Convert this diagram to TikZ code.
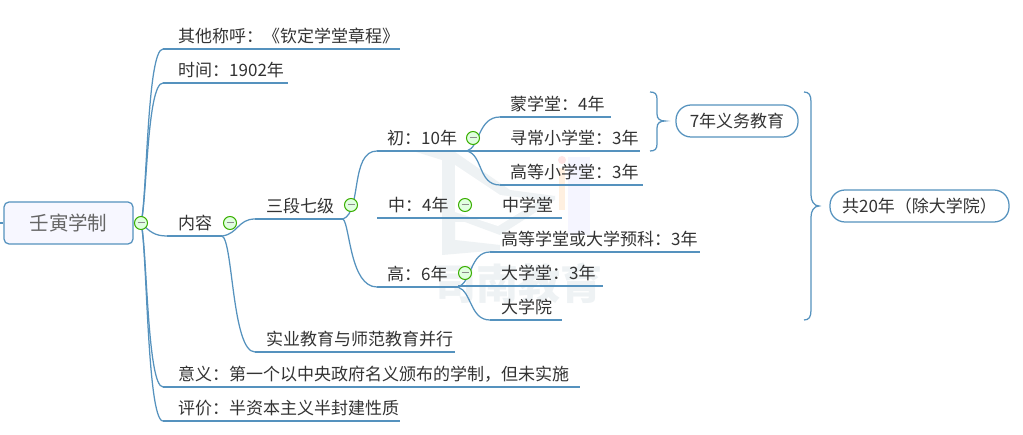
\documentclass[tikz,border=0pt]{standalone}
\usepackage{fontspec}
\setmainfont{Noto Sans CJK SC}
\usetikzlibrary{calc}
\definecolor{lnk}{HTML}{5592BE}
\definecolor{txt}{HTML}{333333}
\definecolor{wm}{HTML}{EEF2F4}
\newcommand{\topic}[6]{% name,x1,x2,yline,textx,text
  \coordinate (#1L) at (#2,#4);
  \coordinate (#1R) at (#3,#4);
  \draw[lnk line] (#1L) -- (#1R);
  \node[lbl] (#1) at (#5,#4-13) {#6};
}
\newcommand{\knob}[2]{\node[knobst] (#1) at #2 {};
  \draw[knobbar] ($(#1)+(-3.5,0)$) -- ($(#1)+(3.5,0)$);}
\tikzset{
  lnk line/.style={draw=lnk,line width=1.25pt},
  lbl/.style={anchor=west,inner sep=0pt,text=txt,font=\fontsize{17pt}{18pt}\selectfont},
  knobst/.style={circle,draw=green!55!black!70!lime,fill=green!12!white,line width=1pt,minimum size=13pt,inner sep=0pt},
  knobbar/.style={draw=black!45,line width=1pt},
  summ/.style={rounded corners=15pt,draw=lnk,line width=1.25pt,fill=white,inner sep=0pt,text=txt,font=\fontsize{17pt}{18pt}\selectfont},
  wmtext/.style={text=wm,font=\bfseries\fontsize{42pt}{44pt}\selectfont,inner sep=0pt},
}
\begin{document}
\begin{tikzpicture}[x=1pt,y=-1pt]
\useasboundingbox (0,0) rectangle (1023,435);
\fill[white] (0,0) rectangle (1023,435);
% watermark
\fill[wm] (413,151) -- (455,152) -- (510,190) -- (555,196) -- (555,200) -- (500,235) -- (465,222) -- (455,222) -- (455,240) -- (500,245) -- (500,250) -- (442,255) -- (442,160) -- cycle;
\fill[white] (455,165) -- (500,195) -- (540,200) -- (498,226) -- (455,212) -- cycle;
\fill[orange!12!white] (559,168) rectangle (565,210);
\fill[red!10!white] (562,160) circle (4);
\fill[blue!4!white] (568,157) rectangle (590,235);
\node[wmtext] (wm) at (518,283) {司南教育};
% root
\node[draw=lnk,line width=1.25pt,fill=blue!3!white,rounded corners=5pt,minimum width=129pt,minimum height=42pt,inner sep=0pt,text=black!60,font=\fontsize{19.5pt}{20pt}\selectfont] (root) at (68.5,223) {壬寅学制};
\coordinate (stub) at (0,223);
\draw[lnk line] (stub) -- (root.west);
\coordinate (hub) at (141,223);
\topic{a}{163}{400}{49}{178}{其他称呼：《钦定学堂章程》}
\topic{b}{163}{288}{83}{178}{时间：1902年}
\topic{c}{167}{222}{236}{178}{内容}
\topic{d}{255}{343}{219}{266}{三段七级}
\topic{e}{255}{455}{352}{266}{实业教育与师范教育并行}
\topic{f}{163}{580}{387}{178}{意义：第一个以中央政府名义颁布的学制，但未实施}
\topic{g}{163}{400}{421}{178}{评价：半资本主义半封建性质}
\topic{h}{377}{467}{151}{387}{初：10年}
\topic{i}{377}{490}{218}{388}{中：4年}
\topic{j}{377}{458}{287}{387}{高：6年}
\topic{k}{500}{611}{117}{510}{蒙学堂：4年}
\topic{l}{467}{640}{151}{510}{寻常小学堂：3年}
\topic{m}{500}{643}{185}{510}{高等小学堂：3年}
\topic{n}{490}{562}{218}{502}{中学堂}
\topic{o}{490}{700}{252}{501}{高等学堂或大学预科：3年}
\topic{p}{458}{603}{286}{501}{大学堂：3年}
\topic{q}{490}{562}{320}{501}{大学院}
% connectors
\draw[lnk line] (hub) .. controls (147,200) and (147,49) .. (aL);
\draw[lnk line] (hub) .. controls (147,200) and (147,83) .. (bL);
\draw[lnk line] (hub) .. controls (147,245) and (147,387) .. (fL);
\draw[lnk line] (hub) .. controls (147,245) and (147,421) .. (gL);
\draw[lnk line] (hub) .. controls (150,232) and (155,236) .. (cL);
\draw[lnk line] (cR) .. controls (238,234) and (238,219) .. (dL);
\draw[lnk line] (cR) .. controls (233,240) and (232,352) .. (eL);
\coordinate (dhub) at (343,219);
\draw[lnk line] (dhub) .. controls (362,212) and (350,151) .. (hL);
\draw[lnk line] (dhub) .. controls (350,225) and (350,287) .. (jL);
\coordinate (hhub) at (467,151);
\coordinate (jhub) at (458,287);
\draw[lnk line] (hhub) .. controls (480,147) and (478,117) .. (kL);
\draw[lnk line] (hhub) .. controls (483,155) and (478,185) .. (mL);
\draw[lnk line] (jhub) .. controls (472,282) and (470,252) .. (oL);
\draw[lnk line] (jhub) .. controls (472,292) and (470,320) .. (qL);
% braces
\coordinate (b1t) at (650,92); \coordinate (b1m) at (665,121); \coordinate (b1b) at (650,151);
\draw[lnk line] (b1t) .. controls (655,92) and (657,94) .. (657,99) -- (657,114) .. controls (657,119) and (660,121) .. (b1m) .. controls (660,121) and (657,123) .. (657,128) -- (657,144) .. controls (657,149) and (655,151) .. (b1b);
\coordinate (b2t) at (804,92); \coordinate (b2m) at (819,206); \coordinate (b2b) at (804,320);
\draw[lnk line] (b2t) .. controls (809,92) and (811,95) .. (811,102) -- (811,195) .. controls (811,201) and (814,206) .. (b2m) .. controls (814,206) and (811,211) .. (811,217) -- (811,310) .. controls (811,317) and (809,320) .. (b2b);
% summary
\node[summ,minimum width=122pt,minimum height=32pt] (s1) at (737,121) {7年义务教育};
\node[summ,minimum width=179pt,minimum height=32pt] (s2) at (919.5,206) {共20年（除大学院）};
% knobs
\knob{kr}{(141,223)}
\knob{kc}{(230,223)}
\knob{kd}{(351,205)}
\knob{kh}{(473,138)}
\knob{ki}{(465,205)}
\knob{kj}{(465,273)}
\end{tikzpicture}
\end{document}
